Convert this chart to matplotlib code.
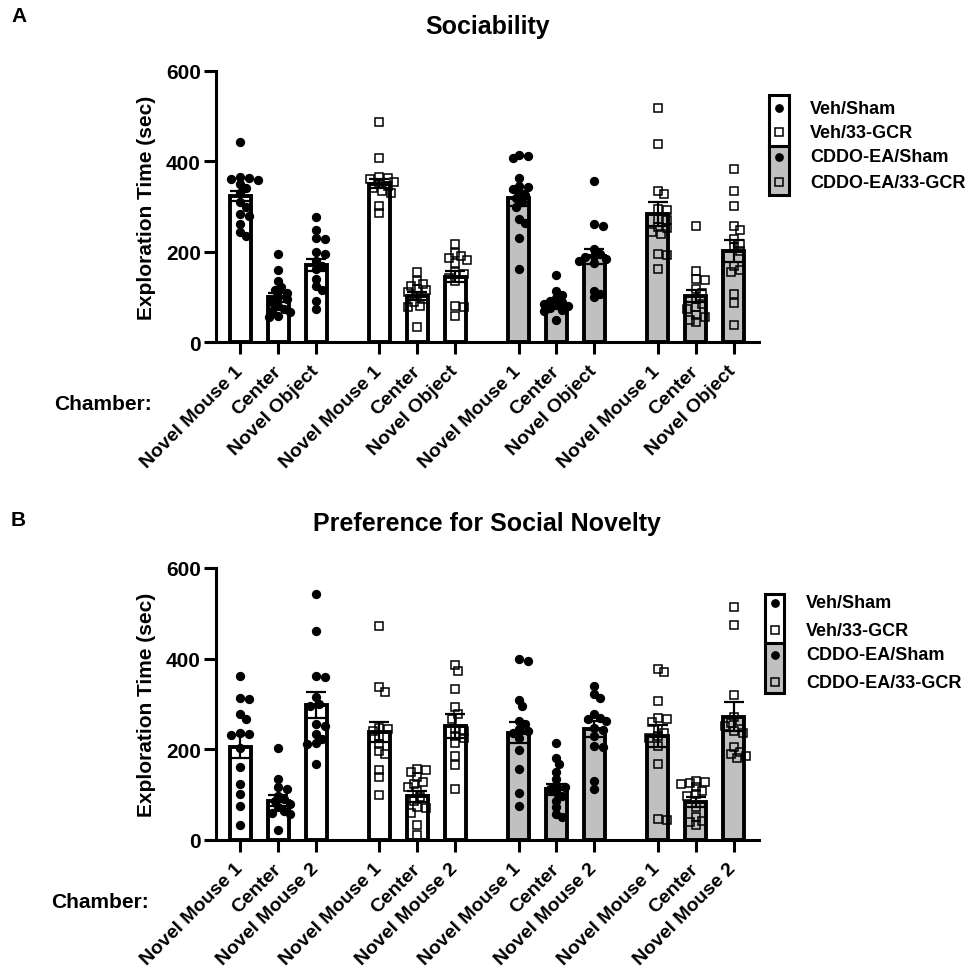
import numpy as np
import matplotlib
matplotlib.use("Agg")
import matplotlib.pyplot as plt
from matplotlib.patches import Rectangle

plt.rcParams['font.family'] = ['Liberation Sans', 'DejaVu Sans']
plt.rcParams['font.weight'] = 'bold'

# groups and chambers
groups = ['Veh/Sham', 'Veh/33-GCR', 'CDDO-EA/Sham', 'CDDO-EA/33-GCR']
soc_chambers = ['Novel Mouse 1', 'Center', 'Novel Object']
nov_chambers = ['Novel Mouse 1', 'Center', 'Novel Mouse 2']

# Sociability (A): bar means, SEM and individual animals
soc_means = [324, 99, 171, 350, 102, 145, 318, 85, 190, 283, 103, 202]
soc_sem = [11, 10, 13, 10, 9, 12, 16, 7, 17, 26, 13, 25]
soc_points = [
    [443, 365, 362, 360, 358, 350, 340, 330, 310, 300, 283, 280, 262, 243, 235],
    [195, 160, 136, 122, 116, 110, 99, 95, 88, 81, 74, 70, 66, 59, 55],
    [277, 249, 230, 228, 200, 195, 180, 168, 162, 140, 125, 116, 92, 74],
    [486, 407, 365, 362, 360, 355, 350, 346, 340, 335, 330, 302, 285],
    [155, 136, 128, 125, 118, 115, 112, 102, 96, 88, 80, 79, 33],
    [217, 197, 190, 186, 182, 175, 155, 150, 143, 136, 81, 79, 57],
    [414, 412, 408, 364, 346, 342, 338, 331, 325, 318, 309, 300, 272, 263, 230, 163],
    [149, 113, 105, 98, 92, 88, 85, 82, 80, 76, 72, 70, 49],
    [357, 261, 257, 206, 196, 190, 188, 185, 180, 175, 114, 107, 99],
    [517, 439, 334, 328, 294, 293, 272, 270, 254, 252, 243, 240, 195, 193, 162],
    [258, 158, 140, 138, 118, 110, 96, 85, 77, 74, 60, 55, 50, 44],
    [383, 334, 302, 258, 247, 228, 217, 210, 202, 169, 160, 155, 107, 87, 39],
]

# Preference for social novelty (B)
nov_means = [206, 87, 298, 239, 96, 251, 237, 112, 245, 230, 83, 272]
nov_sem = [25, 12, 28, 22, 13, 27, 24, 12, 18, 24, 11, 32]
nov_points = [
    [362, 313, 312, 278, 267, 235, 234, 232, 204, 160, 123, 101, 76, 32],
    [202, 135, 116, 112, 98, 90, 85, 80, 72, 65, 60, 57, 21],
    [542, 462, 362, 360, 315, 301, 296, 256, 252, 234, 223, 215, 211, 168],
    [473, 337, 326, 248, 245, 240, 230, 212, 196, 190, 154, 138, 100],
    [157, 155, 150, 138, 128, 124, 116, 108, 95, 87, 72, 70, 60, 32, 10],
    [386, 373, 333, 293, 279, 267, 245, 241, 230, 225, 215, 186, 166, 112],
    [399, 394, 309, 295, 263, 256, 245, 240, 236, 226, 198, 157, 103, 74],
    [213, 181, 168, 151, 135, 120, 116, 112, 105, 98, 87, 72, 57, 50],
    [340, 322, 313, 278, 270, 266, 263, 248, 243, 230, 208, 206, 131, 112],
    [377, 370, 307, 270, 267, 260, 245, 237, 230, 225, 208, 168, 46, 45],
    [131, 128, 125, 123, 116, 109, 101, 98, 72, 50, 43, 40, 32],
    [515, 474, 320, 272, 263, 258, 252, 240, 237, 206, 195, 190, 186, 181],
]

GRAY = '#c0c0c0'
bar_fill = ['white', 'white', GRAY, GRAY]
mk = ['o', 's', 'o', 's']
mk_face = ['black', 'none', 'black', 'none']

W, H = 974, 978
fig = plt.figure(figsize=(W / 100, H / 100), dpi=100)


def px_axes(left, right, top, bottom):
    return fig.add_axes([left / W, 1 - bottom / H, (right - left) / W, (bottom - top) / H])


def swarm(ax, xc, vals, diam=6.5, step=3.0):
    # simple deterministic beeswarm in pixel space
    pts = ax.transData.transform([(xc, v) for v in vals])
    ypx = pts[:, 1]
    pxu = ax.transData.transform((1, 0))[0] - ax.transData.transform((0, 0))[0]
    placed = []
    offs = np.zeros(len(vals))
    for i in np.argsort(-np.array(vals)):
        for k in range(40):
            c = 0 if k == 0 else ((k + 1) // 2) * step * (1 if k % 2 else -1)
            if all((c - p) ** 2 + (ypx[i] - q) ** 2 >= diam ** 2 for p, q in placed):
                break
        placed.append((c, ypx[i]))
        offs[i] = c
    return xc + offs / pxu


def panel(ax, means, sem, points, chambers, title):
    pos = [g * 3.66 + i for g in range(4) for i in range(3)]
    ax.set_xlim(-0.65, 13.65)
    ax.set_ylim(0, 600)
    for j, x in enumerate(pos):
        g = j // 3
        ax.bar(x, means[j], width=0.57, color=bar_fill[g], edgecolor='black',
               linewidth=2.8, zorder=2)
        ax.errorbar(x, means[j], yerr=sem[j], color='black', elinewidth=1.6,
                    capsize=7, capthick=1.6, zorder=3)
        xs = swarm(ax, x, points[j])
        ax.plot(xs, points[j], linestyle='none', marker=mk[g], ms=5.6,
                mfc=mk_face[g], mec='black', mew=1.1, zorder=4, clip_on=False)
    for s in ['top', 'right']:
        ax.spines[s].set_visible(False)
    for s in ['left', 'bottom']:
        ax.spines[s].set_linewidth(2.2)
    ax.set_yticks([0, 200, 400, 600])
    ax.tick_params(axis='both', length=8.6, width=2.2, labelsize=15)
    ax.tick_params(axis='y', pad=2)
    ax.set_xticks(pos, chambers * 4, rotation=45, ha='right', va='center',
                  rotation_mode='anchor', fontsize=14, fontweight='bold')
    ax.tick_params(axis='x', pad=10)
    ax.set_ylabel('Exploration Time (sec)', fontsize=15, fontweight='bold')
    ax.yaxis.set_label_coords(-0.11, 0.5)
    ax.set_title(title, fontsize=18, fontweight='bold', pad=27)


axA = px_axes(215.7, 759, 71.7, 343.3)
panel(axA, soc_means, soc_sem, soc_points, soc_chambers, 'Sociability')
axB = px_axes(215.7, 759, 569, 841)
panel(axB, nov_means, nov_sem, nov_points, nov_chambers, 'Preference for Social Novelty')

# overlay in pixel coordinates for letters, "Chamber:" and the legend boxes
ov = fig.add_axes([0, 0, 1, 1], zorder=10)
ov.set_xlim(0, W)
ov.set_ylim(H, 0)
ov.axis('off')

ov.text(11, 16, 'A', fontsize=15, fontweight='bold', va='center', ha='left')
ov.text(11, 520, 'B', fontsize=15, fontweight='bold', va='center', ha='left')
ov.text(103, 405, 'Chamber:', fontsize=15, fontweight='bold', va='center', ha='center')
ov.text(100, 902, 'Chamber:', fontsize=15, fontweight='bold', va='center', ha='center')


def legend_box(x0, x1, y0, y1, ydiv, rows, xtext):
    ov.add_patch(Rectangle((x0, y0), x1 - x0, ydiv - y0, facecolor='white', edgecolor='none'))
    ov.add_patch(Rectangle((x0, ydiv), x1 - x0, y1 - ydiv, facecolor=GRAY, edgecolor='none'))
    ov.add_patch(Rectangle((x0, y0), x1 - x0, y1 - y0, facecolor='none',
                           edgecolor='black', linewidth=2.2))
    ov.plot([x0, x1], [ydiv, ydiv], color='black', linewidth=2.2)
    xm = (x0 + x1) / 2
    for g, y in enumerate(rows):
        ov.plot(xm, y, marker=mk[g], ms=5.2 if g % 2 == 0 else 5.6,
                mfc=mk_face[g], mec='black', mew=1.1, linestyle='none')
        ov.text(xtext, y, groups[g], fontsize=13, fontweight='bold', va='center', ha='left')


legend_box(769, 789, 96, 196, 147, [109, 133, 158, 183], 810)
legend_box(765, 784, 595, 694, 644, [604, 631, 656, 683], 806)

fig.savefig('out.png', dpi=100)
